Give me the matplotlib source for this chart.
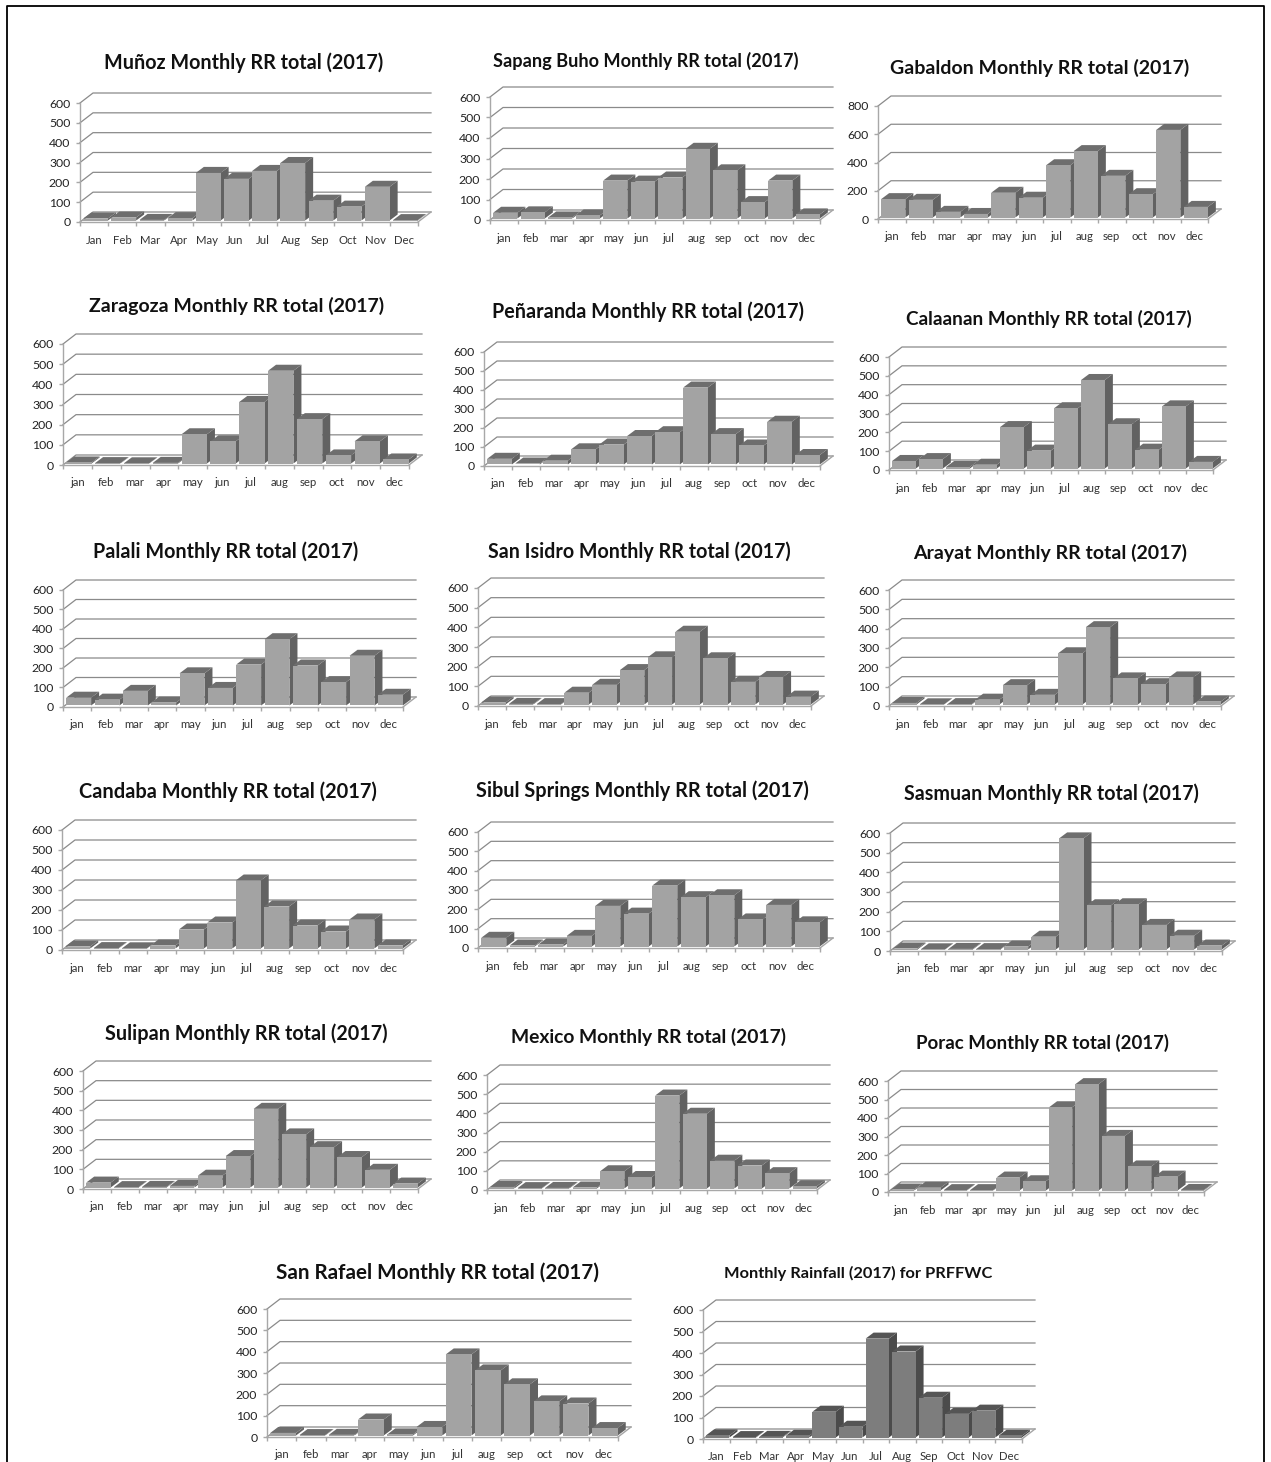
import matplotlib
matplotlib.use('Agg')
import matplotlib.pyplot as plt
from matplotlib.lines import Line2D

plt.rcParams['font.family'] = ['Lato', 'DejaVu Sans']

W, H = 1271, 1462

months_low = ['jan', 'feb', 'mar', 'apr', 'may', 'jun', 'jul', 'aug', 'sep', 'oct', 'nov', 'dec']
months_cap = ['Jan', 'Feb', 'Mar', 'Apr', 'May', 'Jun', 'Jul', 'Aug', 'Sep', 'Oct', 'Nov', 'Dec']

munoz = [10, 15, 3, 12, 240, 210, 250, 290, 100, 70, 170, 2]
sapang = [28, 30, 5, 15, 185, 180, 200, 340, 235, 80, 185, 20]
gabaldon = [130, 125, 40, 25, 175, 140, 370, 470, 295, 165, 620, 75]
zaragoza = [5, 2, 1, 3, 145, 110, 305, 460, 220, 40, 110, 20]
penaranda = [30, 5, 20, 80, 105, 150, 170, 405, 160, 100, 225, 50]
calaanan = [40, 50, 8, 20, 220, 95, 320, 470, 235, 100, 330, 35]
palali = [40, 30, 75, 15, 165, 90, 210, 340, 205, 120, 255, 55]
san_isidro = [10, 3, 2, 60, 100, 175, 240, 370, 235, 115, 140, 40]
arayat = [8, 1, 2, 25, 100, 50, 265, 400, 135, 105, 140, 15]
candaba = [10, 2, 1, 15, 95, 130, 340, 210, 115, 85, 145, 15]
sibul = [45, 5, 10, 55, 210, 170, 315, 255, 265, 140, 215, 125]
sasmuan = [5, 1, 3, 2, 15, 65, 565, 225, 230, 125, 70, 20]
sulipan = [25, 2, 3, 8, 60, 160, 400, 270, 205, 155, 90, 20]
mexico = [8, 2, 3, 5, 90, 60, 485, 390, 145, 120, 80, 12]
porac = [5, 15, 2, 2, 70, 50, 450, 575, 295, 130, 75, 3]
san_rafael = [12, 2, 3, 75, 5, 40, 380, 305, 240, 160, 150, 35]
prffwc = [10, 2, 3, 8, 120, 50, 460, 400, 185, 110, 125, 8]

# title, values, labels, ymax, axis left/right/zero/top px, title centre x/y px, title size
panels = [
    ('Muñoz Monthly RR total (2017)', munoz, months_cap, 600, 80, 418, 222, 103, 244, 63, 14.2),
    ('Sapang Buho Monthly RR total (2017)', sapang, months_low, 600, 490, 820, 220, 97, 646, 61, 13.1),
    ('Gabaldon Monthly RR total (2017)', gabaldon, months_low, 800, 878, 1208, 219, 106, 1040, 68, 14.0),
    ('Zaragoza Monthly RR total (2017)', zaragoza, months_low, 600, 63, 409, 465, 344, 237, 306, 14.0),
    ('Peñaranda Monthly RR total (2017)', penaranda, months_low, 600, 484, 820, 466, 352, 648, 312, 14.2),
    ('Calaanan Monthly RR total (2017)', calaanan, months_low, 600, 889, 1213, 470, 357, 1049, 319, 13.6),
    ('Palali Monthly RR total (2017)', palali, months_low, 600, 63, 403, 707, 590, 226, 552, 14.2),
    ('San Isidro Monthly RR total (2017)', san_isidro, months_low, 600, 478, 811, 706, 588, 639, 552, 14.1),
    ('Arayat Monthly RR total (2017)', arayat, months_low, 600, 889, 1221, 706, 590, 1050, 553, 14.0),
    ('Candaba Monthly RR total (2017)', candaba, months_low, 600, 62, 403, 950, 830, 228, 792, 14.4),
    ('Sibul Springs Monthly RR total (2017)', sibul, months_low, 600, 478, 820, 948, 832, 642, 791, 14.3),
    ('Sasmuan Monthly RR total (2017)', sasmuan, months_low, 600, 890, 1222, 951, 833, 1051, 794, 14.1),
    ('Sulipan Monthly RR total (2017)', sulipan, months_low, 600, 83, 418, 1189, 1071, 246, 1034, 14.2),
    ('Mexico Monthly RR total (2017)', mexico, months_low, 600, 487, 817, 1190, 1075, 648, 1037, 13.9),
    ('Porac Monthly RR total (2017)', porac, months_low, 600, 888, 1204, 1192, 1081, 1042, 1043, 13.4),
    ('San Rafael Monthly RR total (2017)', san_rafael, months_low, 600, 267, 618, 1437, 1309, 437, 1273, 14.9),
    ('Monthly Rainfall (2017) for PRFFWC', prffwc, months_cap, 600, 703, 1022, 1439, 1310, 858, 1273, 11.75),
]

DX, DY = 13, 10      # depth of back wall in px
BX, BY = 8, 6        # depth of a bar in px


def draw_panel(fig, title, vals, labels, ymax, x0, x1, y0, ytop, tx, ty, tsize):
    ax = fig.add_axes([x0 / W, 1 - y0 / H, (x1 - x0) / W, (y0 - ytop) / H])
    ax.set_xlim(0, 12)
    ax.set_ylim(0, ymax)
    ax.patch.set_alpha(0)
    sx = 12 / (x1 - x0)
    sy = ymax / (y0 - ytop)
    dx, dy = DX * sx, DY * sy
    bx, by = BX * sx, BY * sy

    step = 200 if ymax == 800 else 100
    ticks = list(range(0, ymax + 1, step))
    for t in ticks:
        ax.plot([0, dx, 12 + dx], [t, t + dy, t + dy], color='#8a8a8a', lw=0.9, clip_on=False, zorder=1)
    ax.plot([12, 12 + dx], [0, dy], color='#a5a5a5', lw=1.0, clip_on=False, zorder=1)

    dark = title.startswith('Monthly Rainfall')
    front = '#7d7d7d' if dark else '#a3a3a3'
    topc = '#555555' if dark else '#6e6e6e'
    side = '#4b4b4b' if dark else '#626262'
    w = 0.88
    ox, oy = 1.5 * sx, 1.5 * sy
    for i, v in enumerate(vals):
        l = i + (1 - w) / 2 + ox
        r = l + w
        b = oy
        t = v + oy
        z = 2 + i
        ax.fill([r, r + bx, r + bx, r], [b, b + by, t + by, t], color=side, lw=0, clip_on=False, zorder=z)
        ax.fill([l, r, r + bx, l + bx], [t, t, t + by, t + by], color=topc, lw=0, clip_on=False, zorder=z)
        ax.bar(i + 0.5 + ox, v, width=w, bottom=b, color=front, linewidth=0, zorder=z, clip_on=False)

    for s in ['top', 'right']:
        ax.spines[s].set_visible(False)
    for s in ['left', 'bottom']:
        ax.spines[s].set_color('#a8a8a8')
        ax.spines[s].set_linewidth(1.0)
    ax.set_yticks(ticks)
    ax.set_xticks(range(13))
    ax.set_xticklabels([])
    ax.set_xticks([i + 0.5 for i in range(12)], minor=True)
    ax.set_xticklabels(labels, minor=True)
    ax.tick_params(axis='x', which='major', length=3, color='#a8a8a8', width=1)
    ax.tick_params(axis='x', which='minor', length=0, pad=9, labelsize=8.2, labelcolor='#333333')
    ax.tick_params(axis='y', length=3, color='#a8a8a8', width=1, pad=4, labelsize=8.8, labelcolor='#222222')

    fig.text(tx / W, 1 - ty / H, title, ha='center', va='center', fontsize=tsize,
             fontweight='bold', color='#111111')


fig = plt.figure(figsize=(W / 100, H / 100), dpi=100)
fig.patch.set_facecolor('white')

# outer frame, open at the bottom
fig.add_artist(Line2D([7 / W, 7 / W, 1264 / W, 1264 / W],
                      [0, 1 - 6 / H, 1 - 6 / H, 0],
                      color='black', lw=1.3, transform=fig.transFigure))

for p in panels:
    draw_panel(fig, *p)

fig.savefig('out.png', dpi=100)
